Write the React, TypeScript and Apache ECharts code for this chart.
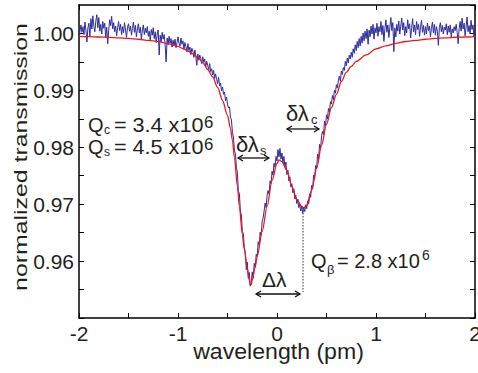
import React, { useEffect, useRef } from "react";
import * as echarts from "echarts";

const FONT = "'Liberation Sans', Arial, Helvetica, sans-serif";
const TEXT = "#231f20";

const xRange = [-2, 2];
const yRange = [0.95, 1.005];

// Lorentzian doublet fit (red)
const fitWavelength = [-2.0,-1.9,-1.8,-1.7,-1.6,-1.5,-1.4,-1.3,-1.2,-1.1,-1.0,-0.95,-0.9,-0.85,-0.8,-0.75,-0.7,-0.65,-0.6,-0.55,-0.5,-0.47,-0.45,-0.43,-0.4,-0.38,-0.35,-0.33,-0.3,-0.28,-0.27,-0.26,-0.25,-0.22,-0.2,-0.15,-0.1,-0.05,0,0.02,0.05,0.1,0.15,0.2,0.25,0.27,0.3,0.35,0.4,0.45,0.5,0.55,0.6,0.65,0.7,0.75,0.8,0.9,1.0,1.1,1.2,1.3,1.4,1.5,1.6,1.7,1.8,1.9,2.0];
const fitTransmission = [0.99947,0.99944,0.99938,0.99931,0.99923,0.99912,0.99898,0.9988,0.99856,0.99821,0.99772,0.99736,0.99692,0.9964,0.99578,0.9949,0.99367,0.99236,0.99051,0.98822,0.98559,0.9833,0.9812,0.97821,0.97311,0.9696,0.96467,0.96204,0.9587,0.95659,0.9558,0.95589,0.95659,0.95896,0.96081,0.9652,0.9696,0.97417,0.97715,0.97777,0.9775,0.97592,0.97311,0.97083,0.9696,0.96937,0.96977,0.97241,0.97627,0.98032,0.98401,0.98699,0.98928,0.99156,0.99315,0.9942,0.99508,0.99622,0.99728,0.9978,0.99824,0.99859,0.9988,0.99898,0.99912,0.99924,0.99933,0.99938,0.99944];

// measured transmission (blue), sampled every 0.01 pm from -2 pm
const measStart = -2;
const measStep = 0.01;
const measTransmission = [
  // -2.00 .. -1.51
  0.9996,1.0004,1.0015,1.0002,1.0012,0.9998,1.0020,1.0006,0.9985,1.0010,
  1.0018,0.9995,1.0026,1.0008,1.0031,1.0012,1.0003,1.0022,1.0033,1.0010,
  1.0028,1.0004,1.0016,0.9999,1.0021,1.0009,1.0018,0.9992,1.0011,0.9982,
  1.0005,1.0024,1.0014,1.0030,1.0008,1.0019,1.0003,1.0013,0.9996,1.0010,
  1.0021,1.0005,1.0016,0.9998,1.0012,1.0001,1.0019,1.0006,0.9993,1.0011,
  // -1.50 .. -1.01
  1.0017,1.0004,1.0013,0.9997,1.0009,1.0020,1.0002,1.0014,0.9994,1.0008,
  1.0017,1.0001,1.0011,0.9990,1.0006,1.0015,0.9998,1.0009,1.0001,1.0012,
  0.9995,1.0004,0.9988,1.0007,0.9997,1.0010,0.9991,1.0003,0.9984,0.9999,
  1.0006,0.9962,0.9997,0.9985,1.0002,0.9990,0.9998,0.9981,0.9950,0.9992,
  0.9980,0.9995,0.9983,0.9991,0.9976,0.9988,0.9979,0.9990,0.9975,0.9984,
  // -1.00 .. -0.51
  0.9994,0.9983,0.9978,0.9992,0.9981,0.9987,0.9972,0.9984,0.9977,0.9968,
  0.9982,0.9970,0.9976,0.9963,0.9974,0.9969,0.9958,0.9971,0.9960,0.9944,
  0.9964,0.9953,0.9962,0.9956,0.9947,0.9959,0.9950,0.9955,0.9941,0.9951,
  0.9944,0.9936,0.9947,0.9933,0.9938,0.9927,0.9935,0.9921,0.9929,0.9919,
  0.9912,0.9923,0.9908,0.9913,0.9899,0.9906,0.9893,0.9897,0.9882,0.9888,
  // -0.50 .. -0.01
  0.9876,0.9869,0.9871,0.9853,0.9848,0.9826,0.9818,0.9794,0.9789,0.9764,
  0.9756,0.9722,0.9719,0.9688,0.9681,0.9652,0.9648,0.9624,0.9615,0.9585,
  0.9598,0.9570,0.9580,0.9556,0.9562,0.9581,0.9570,0.9596,0.9589,0.9612,
  0.9608,0.9634,0.9628,0.9651,0.9645,0.9670,0.9676,0.9688,0.9702,0.9694,
  0.9716,0.9724,0.9718,0.9741,0.9736,0.9758,0.9751,0.9772,0.9765,0.9784,
  // 0.00 .. 0.49
  0.9776,0.9796,0.9783,0.9798,0.9779,0.9790,0.9772,0.9784,0.9765,0.9774,
  0.9752,0.9760,0.9741,0.9748,0.9730,0.9736,0.9720,0.9727,0.9709,0.9716,
  0.9701,0.9709,0.9694,0.9700,0.9688,0.9697,0.9684,0.9695,0.9687,0.9699,
  0.9692,0.9706,0.9700,0.9718,0.9712,0.9733,0.9727,0.9751,0.9744,0.9768,
  0.9762,0.9788,0.9779,0.9805,0.9796,0.9820,0.9828,0.9822,0.9846,0.9838,
  // 0.50 .. 0.99
  0.9857,0.9850,0.9868,0.9862,0.9880,0.9876,0.9891,0.9884,0.9900,0.9895,
  0.9910,0.9904,0.9918,0.9925,0.9916,0.9934,0.9928,0.9940,0.9935,0.9951,
  0.9943,0.9957,0.9948,0.9962,0.9955,0.9967,0.9958,0.9973,0.9965,0.9980,
  0.9970,0.9986,0.9975,0.9991,0.9978,0.9995,0.9983,1.0001,0.9987,1.0004,
  0.9991,1.0008,0.9981,1.0006,0.9994,1.0013,0.9999,1.0016,0.9990,1.0010,
  // 1.00 .. 2.00
  1.0001,1.0018,0.9995,1.0012,1.0003,1.0021,0.9998,1.0014,0.9986,1.0009,
  1.0024,1.0002,1.0015,0.9993,1.0011,1.0028,1.0005,1.0019,0.9968,1.0010,
  0.9994,1.0016,1.0004,1.0022,0.9999,1.0013,1.0027,1.0006,1.0019,0.9996,
  1.0012,1.0001,1.0024,1.0008,1.0017,0.9992,1.0010,1.0026,1.0003,1.0015,
  0.9998,1.0021,1.0007,1.0016,0.9995,1.0011,1.0023,1.0002,1.0014,0.9997,
  1.0012,0.9999,1.0018,1.0005,1.0013,0.9994,1.0009,1.0020,1.0001,1.0016,
  0.9997,1.0012,1.0004,0.9979,1.0010,1.0019,1.0003,1.0014,0.9999,1.0011,
  1.0006,1.0017,0.9998,1.0013,1.0002,1.0015,0.9994,1.0008,1.0001,1.0012,
  1.0005,1.0016,1.0002,0.9982,1.0009,1.0021,1.0004,1.0027,1.0008,1.0018,
  0.9996,1.0011,1.0029,1.0003,1.0014,0.9999,1.0023,1.0007,1.0015,0.9994,
  1.0006
];

function txt(x: number, baseline: number, text: string, size: number, scaleX = 1) {
  return {
    type: "text",
    x,
    y: baseline - 0.3465 * size,
    scaleX,
    silent: true,
    style: {
      text,
      fontSize: size,
      fontFamily: FONT,
      fill: TEXT,
      align: "left",
      verticalAlign: "middle",
    },
  };
}

function arrow(x1: number, x2: number, y: number) {
  const h = 5, w = 3;
  const s = { stroke: "#111", lineWidth: 1.3, fill: "none" };
  return [
    { type: "line", silent: true, shape: { x1, y1: y, x2, y2: y }, style: s },
    { type: "polyline", silent: true, shape: { points: [[x1 + h, y - w], [x1, y], [x1 + h, y + w]] }, style: s },
    { type: "polyline", silent: true, shape: { points: [[x2 - h, y - w], [x2, y], [x2 - h, y + w]] }, style: s },
  ];
}

export default function App() {
  const ref = useRef<HTMLDivElement>(null);
  useEffect(() => {
    if (!ref.current) return;
    document.body.style.margin = "0";
    const chart = echarts.init(ref.current, undefined, { renderer: "svg" });
    const meas = measTransmission.map((v, i) => [+(measStart + i * measStep).toFixed(2), v]);
    const fit = fitWavelength.map((x, i) => [x, fitTransmission[i]]);
    const axisLine = { show: true, onZero: false, lineStyle: { color: "#000", width: 1.5 } };
    const tick = { show: true, inside: true, length: 5, lineStyle: { color: "#000", width: 1 } };
    const xLabel = (v: number) => (Math.abs(v - Math.round(v)) < 1e-6 ? String(Math.round(v)) : "");
    const yLabel = (v: number) => {
      const k = Math.round(v * 1000);
      return k % 10 === 0 && k >= 960 && k <= 1000 ? (k / 1000).toFixed(2) : "";
    };
    const labelStyle = { fontSize: 21, color: TEXT, fontFamily: FONT };
    chart.setOption({
      animation: false,
      grid: { left: 79, right: 3, top: 5, bottom: 55, containLabel: false, outerBoundsMode: "none" },
      xAxis: [
        { type: "value", min: xRange[0], max: xRange[1], interval: 0.5, position: "bottom", axisLine, axisTick: tick,
          axisLabel: { ...labelStyle, margin: 5, formatter: xLabel, alignMinLabel: "center", alignMaxLabel: "center" },
          splitLine: { show: false } },
        { type: "value", min: xRange[0], max: xRange[1], interval: 0.5, position: "top", axisLine, axisTick: tick,
          axisLabel: { show: false }, splitLine: { show: false } },
      ],
      yAxis: [
        { type: "value", min: yRange[0], max: yRange[1], interval: 0.005, position: "left", axisLine, axisTick: tick,
          axisLabel: { ...labelStyle, margin: 5, formatter: yLabel, showMaxLabel: false }, splitLine: { show: false } },
        { type: "value", min: yRange[0], max: yRange[1], interval: 0.005, position: "right", axisLine, axisTick: tick,
          axisLabel: { show: false }, splitLine: { show: false } },
      ],
      series: [
        { type: "line", data: meas, showSymbol: false, xAxisIndex: 0, yAxisIndex: 0,
          lineStyle: { color: "#2b2b9e", width: 1 }, z: 2 },
        { type: "line", data: fit, showSymbol: false, smooth: 0.3, smoothMonotone: "x", xAxisIndex: 0, yAxisIndex: 0,
          lineStyle: { color: "#f2161c", width: 1.3 }, z: 3 },
      ],
      graphic: [
        {
          type: "text", x: 21.6, y: 157, rotation: Math.PI / 2, scaleX: 1.42, silent: true,
          style: { text: "normalized transmission", fontSize: 17.5, fontFamily: FONT, fill: TEXT, align: "center", verticalAlign: "middle" },
        },
        {
          type: "text", x: 278.5, y: 352, scaleX: 1.05, silent: true,
          style: { text: "wavelength (pm)", fontSize: 22, fontFamily: FONT, fill: TEXT, align: "center", verticalAlign: "middle" },
        },
        txt(88, 132, "Q", 20),
        txt(104, 134.5, "c", 12),
        txt(114, 132, "= 3.4 x10", 20, 1.08),
        txt(204, 128, "6", 16, 1.05),
        txt(88, 154, "Q", 20),
        txt(104, 156.5, "s", 12),
        txt(114, 154, "= 4.5 x10", 20, 1.08),
        txt(204, 150, "6", 16, 1.05),
        txt(311, 268, "Q", 20),
        txt(327, 274, "β", 13),
        txt(337, 268, "= 2.8 x10", 20),
        txt(422, 260, "6", 14),
        txt(236, 152, "δλ", 22),
        txt(260, 155, "s", 13),
        txt(286, 121, "δλ", 22),
        txt(311, 124, "c", 13),
        txt(262, 287, "Δλ", 21),
        ...arrow(238, 269, 158),
        ...arrow(287, 319, 129),
        ...arrow(256, 300, 294),
        { type: "line", silent: true, shape: { x1: 303, y1: 207, x2: 303, y2: 292 },
          style: { stroke: "#333", lineWidth: 1, lineDash: [1.5, 1.5] } },
      ],
    });
    return () => chart.dispose();
  }, []);
  return <div ref={ref} style={{ width: 478, height: 373 }} />;
}
